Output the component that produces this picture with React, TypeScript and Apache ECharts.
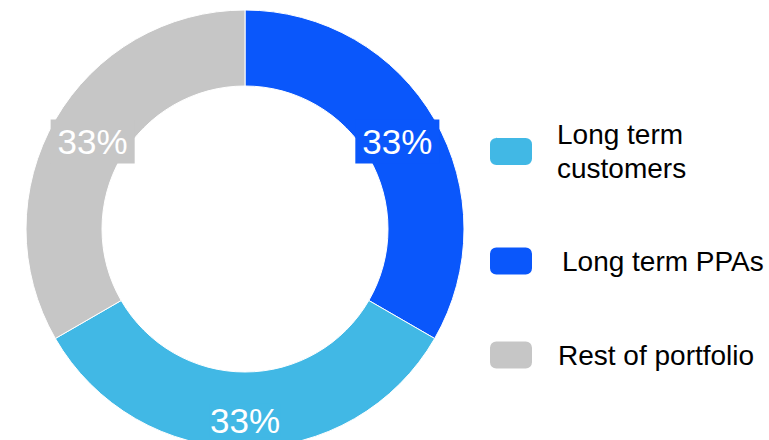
import React, { useEffect, useRef } from "react";
import * as echarts from "echarts";

const categories = ["Long term PPAs", "Long term customers", "Rest of portfolio"];
const values = [33, 33, 33];
const colors = ["#0A57FB", "#41B8E5", "#C6C6C6"];
const legendOrder = ["Long term customers", "Long term PPAs", "Rest of portfolio"];

const FONT = "'Liberation Sans', Arial, sans-serif";

export default function App() {
  const ref = useRef<HTMLDivElement>(null);

  useEffect(() => {
    if (!ref.current) return;
    const chart = echarts.init(ref.current, undefined, { renderer: "svg" });

    const labelOffsets: Record<string, number[]> = {
      "Long term PPAs": [-7, 4.5],
      "Long term customers": [0, 7.5],
      "Rest of portfolio": [7, 4.5],
    };

    const legendTops: Record<string, number> = {
      "Long term customers": 117.5,
      "Long term PPAs": 244,
      "Rest of portfolio": 338,
    };
    const legendPad: Record<string, number> = {
      "Long term customers": 19,
      "Long term PPAs": 24,
      "Rest of portfolio": 20,
    };

    const option: any = {
      animation: false,
      backgroundColor: "#ffffff",
      color: colors,
      legend: legendOrder.map((name) => ({
        data: [name],
        left: 488,
        top: legendTops[name],
        orient: "vertical",
        padding: 0,
        icon: "roundRect",
        itemWidth: 44,
        itemHeight: 29,
        selectedMode: false,
        formatter: (n: string) => (n === "Long term customers" ? "Long term\ncustomers" : n),
        textStyle: {
          fontFamily: FONT,
          fontSize: 28,
          lineHeight: 34,
          color: "#000000",
          padding: [0, 0, 0, legendPad[name]],
        },
      })),
      series: [
        {
          type: "pie",
          center: [245, 229],
          radius: [143, 219],
          startAngle: 90,
          clockwise: true,
          avoidLabelOverlap: false,
          itemStyle: { borderColor: "#ffffff", borderWidth: 1 },
          labelLine: { show: false },
          emphasis: { disabled: true },
          data: categories.map((name, i) => {
            const bottom = name === "Long term customers";
            return {
              name,
              value: values[i],
              itemStyle: { color: colors[i] },
              label: {
                show: true,
                position: "inside",
                formatter: "{c}%",
                fontFamily: FONT,
                fontSize: 35,
                lineHeight: bottom ? 34 : 40,
                color: "#ffffff",
                backgroundColor: colors[i],
                padding: bottom ? 0 : [2, 7, 2, 7],
                offset: labelOffsets[name],
              },
            };
          }),
        },
      ],
    };

    chart.setOption(option);
    return () => chart.dispose();
  }, []);

  return (
    <div
      ref={ref}
      style={{ position: "absolute", left: 0, top: 0, width: 769, height: 440 }}
    />
  );
}
